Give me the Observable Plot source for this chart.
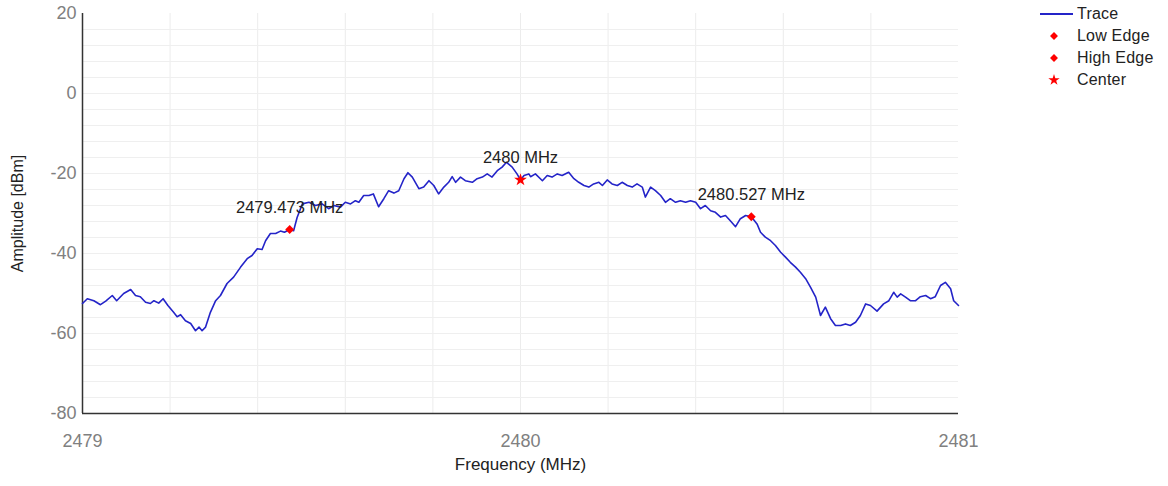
<!DOCTYPE html>
<html>
<head>
<meta charset="utf-8">
<script src="https://cdn.jsdelivr.net/npm/d3@7"></script>
<script src="https://cdn.jsdelivr.net/npm/@observablehq/plot@0.6"></script>
<style>
  html, body { margin: 0; padding: 0; background: #fff; }
  #wrap { position: relative; width: 1168px; height: 486px; font-family: "Liberation Sans", Arial, sans-serif; }
  #legend { position: absolute; left: 1040px; top: 0; width: 128px; }
  .row { position: absolute; left: 0; height: 22px; width: 128px; }
  .row svg { position: absolute; left: 0; top: 0; }
  .row span { position: absolute; left: 37px; top: 2px; font-size: 16px; color: #222; line-height: 18px; letter-spacing: 0.2px; }
</style>
</head>
<body>
<div id="wrap"></div>
<script>
// ---- data ----
const freq = [
  2479.000, 2479.011, 2479.026, 2479.041, 2479.053, 2479.068, 2479.078, 2479.094, 2479.110, 2479.121,
  2479.132, 2479.144, 2479.155, 2479.163, 2479.174, 2479.184, 2479.195, 2479.208, 2479.216, 2479.224,
  2479.235, 2479.247, 2479.258, 2479.266, 2479.273, 2479.281, 2479.292, 2479.304, 2479.315, 2479.330,
  2479.345, 2479.361, 2479.376, 2479.387, 2479.399, 2479.410, 2479.418, 2479.429, 2479.441, 2479.452,
  2479.461, 2479.473, 2479.482, 2479.490, 2479.502, 2479.517, 2479.532, 2479.547, 2479.562, 2479.574,
  2479.589, 2479.600, 2479.612, 2479.623, 2479.631, 2479.642, 2479.654, 2479.664, 2479.676, 2479.688,
  2479.699, 2479.711, 2479.722, 2479.734, 2479.743, 2479.753, 2479.768, 2479.779, 2479.791, 2479.802,
  2479.813, 2479.825, 2479.836, 2479.844, 2479.852, 2479.863, 2479.874, 2479.890, 2479.901, 2479.913,
  2479.924, 2479.935, 2479.947, 2479.958, 2479.968, 2479.981, 2479.992, 2480.000, 2480.008, 2480.019,
  2480.023, 2480.034, 2480.050, 2480.061, 2480.072, 2480.084, 2480.095, 2480.110, 2480.122, 2480.133,
  2480.145, 2480.156, 2480.167, 2480.179, 2480.187, 2480.198, 2480.209, 2480.221, 2480.232, 2480.244,
  2480.255, 2480.266, 2480.278, 2480.285, 2480.297, 2480.308, 2480.320, 2480.331, 2480.342, 2480.354,
  2480.365, 2480.377, 2480.388, 2480.400, 2480.411, 2480.422, 2480.434, 2480.445, 2480.457, 2480.468,
  2480.479, 2480.491, 2480.502, 2480.514, 2480.527, 2480.540, 2480.548, 2480.559, 2480.571, 2480.582,
  2480.594, 2480.605, 2480.616, 2480.628, 2480.639, 2480.651, 2480.662, 2480.674, 2480.685, 2480.696,
  2480.708, 2480.719, 2480.731, 2480.742, 2480.753, 2480.765, 2480.776, 2480.788, 2480.799, 2480.814,
  2480.829, 2480.841, 2480.852, 2480.860, 2480.868, 2480.879, 2480.890, 2480.902, 2480.913, 2480.925,
  2480.936, 2480.947, 2480.959, 2480.970, 2480.982, 2480.989, 2481.000
];
const amp = [
  -52.5, -51.3, -51.8, -52.8, -51.9, -50.5, -51.8, -50.0, -49.0, -50.5,
  -50.8, -52.2, -52.5, -51.8, -52.4, -51.3, -53.0, -54.7, -55.8, -55.3,
  -56.8, -57.5, -59.3, -58.4, -59.3, -58.4, -54.7, -51.8, -50.5, -47.5,
  -45.9, -43.4, -41.3, -40.5, -38.8, -39.0, -36.8, -35.0, -35.0, -34.4,
  -34.7, -34.0, -34.3, -31.0, -27.6, -27.2, -28.0, -27.6, -28.8, -28.0,
  -28.4, -27.2, -27.6, -26.8, -27.2, -25.5, -25.5, -25.1, -28.3, -26.3,
  -24.3, -24.9, -24.3, -21.3, -19.8, -20.9, -23.8, -23.4, -21.8, -23.0,
  -25.1, -23.4, -22.2, -20.8, -22.2, -20.9, -21.8, -22.2, -21.3, -20.9,
  -20.1, -20.9, -19.3, -18.4, -17.2, -18.4, -20.1, -21.6, -20.5, -20.1,
  -20.8, -20.1, -21.8, -20.5, -20.9, -20.1, -20.5, -19.7, -21.3, -22.2,
  -23.0, -23.4, -22.6, -22.2, -23.0, -21.6, -22.6, -23.0, -22.2, -23.0,
  -23.4, -22.6, -23.4, -25.9, -23.4, -24.3, -25.5, -27.2, -26.3, -27.2,
  -26.8, -27.2, -26.8, -27.2, -28.8, -28.0, -29.3, -29.7, -30.9, -30.5,
  -31.8, -33.3, -31.3, -30.5, -30.8, -32.6, -34.7, -35.9, -36.8, -38.0,
  -39.7, -40.9, -42.2, -43.4, -44.7, -46.3, -48.4, -50.9, -55.5, -53.4,
  -56.3, -58.0, -58.0, -57.6, -58.0, -57.2, -55.5, -52.6, -53.0, -54.4,
  -52.6, -51.8, -49.7, -50.9, -50.1, -50.9, -51.8, -51.8, -50.8, -50.5,
  -51.3, -50.8, -48.0, -47.2, -48.8, -51.8, -53.0
];
const markerNames = ["Low Edge", "High Edge", "Center"];
const markerFreq = [2479.473, 2480.527, 2480.000];
const markerAmp = [-34.0, -30.8, -21.6];
const markerLabels = ["2479.473 MHz", "2480.527 MHz", "2480 MHz"];
const markerSymbols = ["diamond2", "diamond2", "star"];

const xTicks = [2479, 2480, 2481];
const yTicks = [20, 0, -20, -40, -60, -80];
const xGrid = [2479.2, 2479.4, 2479.6, 2479.8, 2480.0, 2480.2, 2480.4, 2480.6, 2480.8];
const yGrid = [16, 12, 8, 4, 0, -4, -8, -12, -16, -20, -24, -28, -32, -36, -40, -44, -48, -52, -56, -60, -64, -68, -72, -76];
const xLabel = "Frequency (MHz)";
const yLabel = "Amplitude [dBm]";
const legendItems = ["Trace", "Low Edge", "High Edge", "Center"];

// ---- build ----
const trace = freq.map((f, i) => ({f, a: amp[i]}));
const markers = markerNames.map((n, i) => ({name: n, f: markerFreq[i], a: markerAmp[i], label: markerLabels[i], sym: markerSymbols[i]}));

const chart = Plot.plot({
  width: 1168,
  height: 486,
  marginLeft: 82,
  marginRight: 210,
  marginTop: 13,
  marginBottom: 73,
  style: {fontFamily: "Liberation Sans, Arial, sans-serif", fontSize: "16px", background: "transparent"},
  x: {domain: [2479, 2481]},
  y: {domain: [-80, 20]},
  symbol: {domain: ["diamond2", "star"], range: ["diamond2", "star"]},
  marks: [
    Plot.ruleX(xGrid, {stroke: "#ececec", strokeWidth: 1}),
    Plot.ruleY(yGrid, {stroke: "#efefef", strokeWidth: 1}),
    Plot.axisX({ticks: xTicks, tickSize: 0, tickPadding: 21, tickFormat: d => String(d), fill: "#808080", fontSize: 18, label: null}),
    Plot.axisY({ticks: yTicks, tickSize: 0, tickPadding: 6, tickFormat: d => String(d), fill: "#808080", fontSize: 18, label: null}),
    Plot.ruleX([2479], {stroke: "#333", strokeWidth: 1.5}),
    Plot.ruleY([-80], {stroke: "#333", strokeWidth: 1.5}),
    Plot.line(trace, {x: "f", y: "a", stroke: "#2424c8", strokeWidth: 1.6}),
    Plot.dot(markers, {x: "f", y: "a", symbol: "sym", fill: "#ff0000", stroke: "none", r: 4}),
    Plot.text(markers, {x: "f", y: "a", text: "label", dy: -22, fill: "#222", fontSize: 16.5}),
    Plot.text([xLabel], {frameAnchor: "bottom", dy: 56, fill: "#222", fontSize: 17}),
    Plot.text([yLabel], {frameAnchor: "left", textAnchor: "middle", dx: -65, rotate: -90, fill: "#222", fontSize: 16})
  ]
});

const wrap = document.getElementById("wrap");
wrap.appendChild(chart);

// legend
const legend = document.createElement("div");
legend.id = "legend";
const starPath = d3.symbol(d3.symbolStar, 40)();
const diamondPath = d3.symbol(d3.symbolDiamond2, 40)();
legendItems.forEach((name, i) => {
  const row = document.createElement("div");
  row.className = "row";
  row.style.top = (3 + i * 22) + "px";
  let icon;
  if (i === 0) {
    icon = `<svg width="36" height="22"><line x1="0" x2="33" y1="11" y2="11" stroke="#2424c8" stroke-width="2"/></svg>`;
  } else if (i < 3) {
    icon = `<svg width="36" height="22"><path d="${diamondPath}" transform="translate(14,11)" fill="#ff0000"/></svg>`;
  } else {
    icon = `<svg width="36" height="22"><path d="${starPath}" transform="translate(14,11)" fill="#ff0000"/></svg>`;
  }
  row.innerHTML = icon + `<span>${name}</span>`;
  legend.appendChild(row);
});
wrap.appendChild(legend);
</script>
</body>
</html>
